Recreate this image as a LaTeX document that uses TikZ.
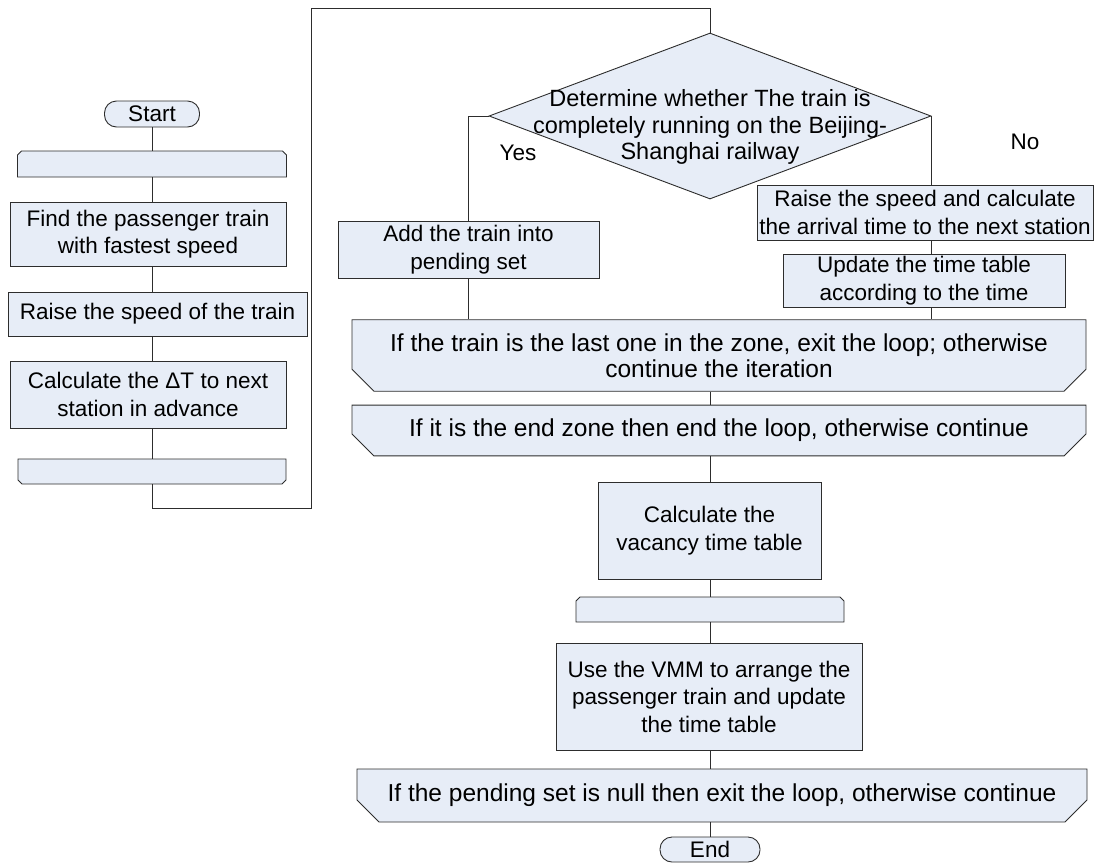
\documentclass[tikz,border=0pt]{standalone}
\usepackage{fontspec}
\setmainfont{Liberation Sans}
\usetikzlibrary{shapes.geometric,shapes.misc}

\definecolor{flowfill}{RGB}{231,237,247}
\definecolor{flowline}{RGB}{45,45,45}

\tikzset{
    every node/.style={font=\fontsize{22.5}{27.5}\selectfont},
    box/.style={draw=flowline, fill=flowfill, align=center, inner sep=2pt},
    term/.style={box, rounded corners=12pt},
    loopbegin/.style={box, chamfered rectangle,
        chamfered rectangle corners={north west, north east},
        chamfered rectangle xsep=5pt, chamfered rectangle ysep=6pt},
    loopend/.style={box, chamfered rectangle,
        chamfered rectangle corners={south west, south east},
        chamfered rectangle xsep=10pt, chamfered rectangle ysep=12pt,
        font=\fontsize{24.5}{25.5}\selectfont},
    decision/.style={box, diamond, inner sep=0pt},
    link/.style={draw=flowline}
}

\begin{document}
\begin{tikzpicture}[x=1pt, y=-1pt, line width=0.9pt]
    \useasboundingbox (0,0) rectangle (1099,865);

    % left column
    \node[term, minimum width=95, minimum height=26] (start) at (152,114) {Start};
    \node[loopbegin, minimum width=269, minimum height=26] (loopA) at (152,164) {};
    \node[box, minimum width=276, minimum height=64] (find) at (148,234) {Find the passenger train\\with fastest speed};
    \node[box, minimum width=299, minimum height=44] (raise) at (157.5,314) {Raise the speed of the train};
    \node[box, minimum width=276, minimum height=67] (calc) at (148,394.5) {Calculate the ΔT to next\\station in advance};
    \node[loopend, chamfered rectangle xsep=5pt, chamfered rectangle ysep=6pt,
        minimum width=268, minimum height=25] (loopAend) at (152,471.5) {};

    % decision
    \node[decision, minimum width=442, minimum height=166] (dia) at (710,116) {};
    \node[align=center, font=\fontsize{23.5}{26.5}\selectfont] (diatext) at (710,127) {Determine whether The train is\\completely running on the Beijing-\\Shanghai railway};
    \node (yes) at (518,153) {Yes};
    \node (no) at (1025,142) {No};

    \node[box, minimum width=261, minimum height=57] (add) at (468.5,249.5) {Add the train into\\pending set};
    \node[box, minimum width=336, minimum height=55] (speed) at (925,212.5) {Raise the speed and calculate\\the arrival time to the next station};
    \node[box, minimum width=282, minimum height=53] (update) at (924,280.5) {Update the time table\\according to the time};

    % loop ends
    \node[loopend, minimum width=734, minimum height=51] (loopB) at (719,355.5) {If the train is the last one in the zone, exit the loop; otherwise\\continue the iteration};
    \node[loopend, minimum width=734, minimum height=49] (loopC) at (719,430.5) {If it is the end zone then end the loop, otherwise continue};

    % lower column
    \node[box, minimum width=223, minimum height=97] (vacancy) at (709.5,530.5) {Calculate the\\vacancy time table};
    \node[loopbegin, minimum width=268, minimum height=25] (loopD) at (710,609.5) {};
    \node[box, minimum width=306, minimum height=107] (vmm) at (709,696.5) {Use the VMM to arrange the\\passenger train and update\\the time table};
    \node[loopend, minimum width=730, minimum height=53] (loopE) at (722,795.5) {If the pending set is null then exit the loop, otherwise continue};
    \node[term, minimum width=100, minimum height=25] (end) at (710,849.5) {End};

    % connectors
    \coordinate (mid) at (710,0);
    \coordinate (turnA) at (152,508);
    \coordinate (turnB) at (311,508);
    \coordinate (turnC) at (311,8);
    \coordinate (turnD) at (710,8);

    \draw[link] (start) -- (loopA);
    \draw[link] (loopA.south) -- (loopA.south |- find.north);
    \draw[link] (loopA.south |- find.south) -- (loopA.south |- raise.north);
    \draw[link] (loopA.south |- raise.south) -- (loopA.south |- calc.north);
    \draw[link] (loopA.south |- calc.south) -- (loopAend.north);
    \draw[link] (loopAend.south) -- (turnA) -- (turnB) -- (turnC) -- (turnD) -- (dia.north);

    \draw[link] (dia.west) -| (add.north);
    \draw[link] (dia.east) -- (dia.east |- speed.north);
    \draw[link] (dia.east |- speed.south) -- (dia.east |- update.north);
    \draw[link] (dia.east |- update.south) -- (dia.east |- loopB.north);
    \draw[link] (add.south) -- (add.south |- loopB.north);

    \draw[link] (mid |- loopB.south) -- (mid |- loopC.north);
    \draw[link] (mid |- loopC.south) -- (mid |- vacancy.north);
    \draw[link] (mid |- vacancy.south) -- (mid |- loopD.north);
    \draw[link] (mid |- loopD.south) -- (mid |- vmm.north);
    \draw[link] (mid |- vmm.south) -- (mid |- loopE.north);
    \draw[link] (mid |- loopE.south) -- (end);
\end{tikzpicture}
\end{document}
